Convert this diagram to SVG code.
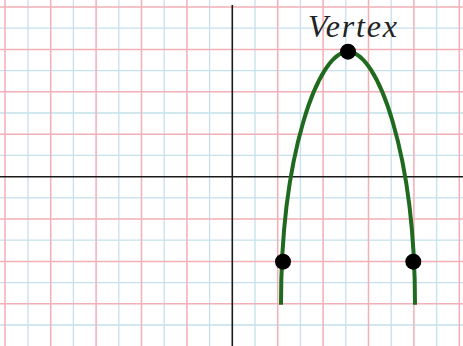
<svg xmlns="http://www.w3.org/2000/svg" width="463" height="346" viewBox="0 0 463 346">
<style>
.minor{stroke:#c4e1ec;stroke-width:1.3;fill:none}
.major{stroke:#f1b0b7;stroke-width:1.5;fill:none}
.axis{stroke:#1a1a1a;stroke-width:1.6;fill:none}
.curve{stroke:#1f6a1f;stroke-width:4;fill:none}
.dot{fill:#000}
.label{font-family:"Liberation Serif","Times New Roman",serif;font-style:italic;font-size:32px;fill:#222}
</style>
<rect width="463" height="346" fill="#fff"/>
<g id="grid">
<path class="minor" d="M28 0V346M73.4 0V346M118.8 0V346M164.2 0V346M209.6 0V346M255 0V346M300.4 0V346M345.8 0V346M391.2 0V346M436.6 0V346M0 28.2H463M0 70.6H463M0 113H463M0 155.4H463M0 197.8H463M0 240.2H463M0 282.6H463M0 325H463"/>
<path class="major" d="M5 0V346M50.7 0V346M96.1 0V346M141.5 0V346M186.9 0V346M277.7 0V346M323.1 0V346M368.5 0V346M413.9 0V346M459.3 0V346M0 7H463M0 49.4H463M0 91.8H463M0 134.2H463M0 219H463M0 261.4H463M0 303.8H463"/>
</g>
<g id="axes">
<line class="axis" x1="0" y1="176.7" x2="463" y2="176.7"/>
<line class="axis" x1="232.3" y1="5" x2="232.3" y2="346"/>
</g>
<g id="connectors">
<path id="parabola" class="curve" d="M281 304.7C281 154.7 318 51.7 348 51.7C378 51.7 415 154.7 415 304.7"/>
</g>
<g id="vertex">
<circle class="dot" cx="348" cy="51.7" r="8"/>
<text class="label" x="308" y="37" textLength="89" lengthAdjust="spacing">Vertex</text>
</g>
<g id="point-left">
<circle class="dot" cx="283" cy="261.7" r="8"/>
</g>
<g id="point-right">
<circle class="dot" cx="413.3" cy="261.7" r="8"/>
</g>
</svg>
